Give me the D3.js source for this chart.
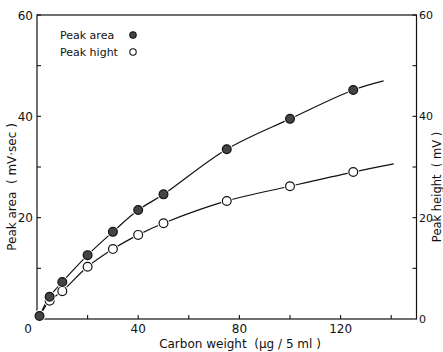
<!DOCTYPE html>
<html><head><meta charset="utf-8">
<script src="https://cdn.jsdelivr.net/npm/d3@7"></script>
<style>html,body{margin:0;padding:0;background:#fff}svg{display:block}text{font-family:"DejaVu Sans",sans-serif;fill:#111}</style>
</head><body>
<svg id="c" width="443" height="352"></svg>
<script>
// ---- data ----
const carbon = [1, 5, 10, 20, 30, 40, 50, 75, 100, 125];
const peakArea = [0.6, 4.4, 7.3, 12.6, 17.2, 21.5, 24.6, 33.5, 39.5, 45.2];
const peakHeight = [0.6, 3.6, 5.5, 10.3, 13.8, 16.6, 18.9, 23.3, 26.2, 29.0];
const areaCurveEnd = [137, 47.0];
const heightCurveEnd = [141, 30.6];
const xTicks = [0, 40, 80, 120];
const xMinor = [20, 60, 100, 140];
const yTicks = [20, 40, 60];
const yTicksRight = [0, 20, 40, 60];
const yMinor = [10, 30, 50];
const legendLabels = ["Peak area", "Peak hight"];

const svg = d3.select("#c");
const L = 37, R = 416.5, T = 15, B = 319;
const x = d3.scaleLinear().domain([0, 150]).range([L, R]);
const y = d3.scaleLinear().domain([0, 60]).range([B, T]);

// frame
svg.append("rect").attr("x", L).attr("y", T).attr("width", R - L).attr("height", B - T)
  .attr("fill", "none").attr("stroke", "#111").attr("stroke-width", 1.2);

const g = svg.append("g");
// ticks (inward)
const tl = 4;
xTicks.concat(xMinor).forEach(v => {
  if (v === 0) return;
  g.append("line").attr("x1", x(v)).attr("x2", x(v)).attr("y1", B).attr("y2", B - tl).attr("stroke", "#111").attr("stroke-width", 1.1);
});
yTicks.concat(yMinor).forEach(v => {
  g.append("line").attr("x1", L).attr("x2", L + tl).attr("y1", y(v)).attr("y2", y(v)).attr("stroke", "#111").attr("stroke-width", 1.1);
  g.append("line").attr("x1", R).attr("x2", R - tl).attr("y1", y(v)).attr("y2", y(v)).attr("stroke", "#111").attr("stroke-width", 1.1);
});

// tick labels
const fs = 12;
xTicks.forEach(v => {
  g.append("text").attr("x", v === 0 ? x(v) - 9 : x(v)).attr("y", 333).attr("text-anchor", "middle")
    .attr("font-size", fs).text(v);
});
yTicks.forEach(v => {
  g.append("text").attr("x", L - 4).attr("y", y(v) + 4.5).attr("text-anchor", "end").attr("font-size", fs).text(v);
});
yTicksRight.forEach(v => {
  g.append("text").attr("x", R + 2.5).attr("y", y(v) + 4).attr("text-anchor", "start").attr("font-size", 11).text(v);
});

// axis titles
svg.append("text").attr("x", 240).attr("y", 348).attr("text-anchor", "middle").attr("font-size", 12)
  .attr("xml:space", "preserve").text("Carbon weight  (µg / 5 ml )");
svg.append("text").attr("transform", `translate(16,187) rotate(-90)`).attr("text-anchor", "middle").attr("font-size", 12)
  .attr("xml:space", "preserve").text("Peak area  ( mV·sec )");
svg.append("text").attr("transform", `translate(440.5,187) rotate(-90)`).attr("text-anchor", "middle").attr("font-size", 11.5)
  .attr("xml:space", "preserve").text("Peak height  ( mV )");

// curves
const line = d3.line().x(d => x(d[0])).y(d => y(d[1])).curve(d3.curveCatmullRom.alpha(0.5));
const areaPts = carbon.map((c, i) => [c, peakArea[i]]).concat([areaCurveEnd]);
const heightPts = carbon.map((c, i) => [c, peakHeight[i]]).concat([heightCurveEnd]);
[areaPts, heightPts].forEach(p => {
  svg.append("path").attr("d", line(p)).attr("fill", "none").attr("stroke", "#111").attr("stroke-width", 1.2);
});

// markers with halo
const r = 4.4;
function marker(cx, cy, filled) {
  svg.append("circle").attr("cx", cx).attr("cy", cy).attr("r", r + 1.5).attr("fill", "#fff");
  svg.append("circle").attr("cx", cx).attr("cy", cy).attr("r", r)
    .attr("fill", filled ? "#444" : "#fff").attr("stroke", "#111").attr("stroke-width", 1.2);
}
carbon.forEach((c, i) => marker(x(c), y(peakHeight[i]), false));
carbon.forEach((c, i) => marker(x(c), y(peakArea[i]), true));

// legend
legendLabels.forEach((t, i) => {
  const ly = 35 + i * 17;
  svg.append("text").attr("x", 60).attr("y", ly + 4).attr("font-size", 11).text(t);
  svg.append("circle").attr("cx", 133).attr("cy", ly).attr("r", 3.2)
    .attr("fill", i === 0 ? "#444" : "#fff").attr("stroke", "#111").attr("stroke-width", 1.1);
});
</script>
</body></html>
